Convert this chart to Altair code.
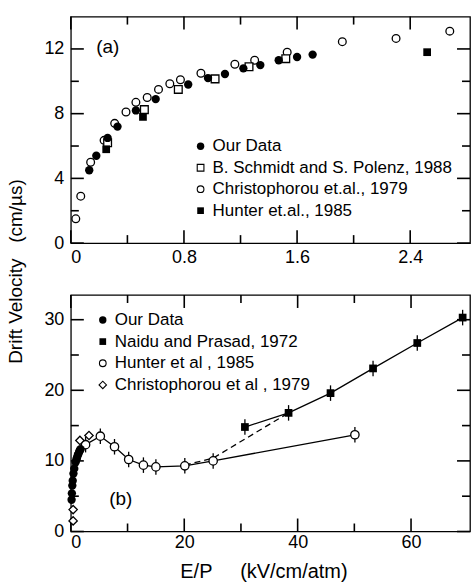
import altair as alt
import pandas as pd

FONT = "Liberation Sans"

# ---------------- Panel (a) data ----------------
a_our_x = [0.13, 0.18, 0.26, 0.33, 0.46, 0.60, 0.83, 0.97, 1.09, 1.22, 1.34, 1.47, 1.60, 1.71]
a_our_y = [4.5, 5.4, 6.5, 7.2, 8.2, 8.9, 9.8, 10.2, 10.45, 10.8, 11.0, 11.3, 11.5, 11.65]
a_sch_x = [0.26, 0.52, 0.76, 1.02, 1.26, 1.52]
a_sch_y = [6.2, 8.25, 9.5, 10.15, 10.9, 11.4]
a_chr_x = [0.035, 0.07, 0.14, 0.235, 0.31, 0.39, 0.46, 0.54, 0.62, 0.70, 0.775, 0.92, 1.16, 1.30, 1.53, 1.92, 2.30, 2.68]
a_chr_y = [1.5, 2.9, 5.0, 6.35, 7.4, 8.1, 8.7, 9.0, 9.5, 9.85, 10.1, 10.5, 11.05, 11.3, 11.8, 12.45, 12.65, 13.1]
a_hun_x = [0.25, 0.51, 2.52]
a_hun_y = [5.8, 7.8, 11.8]

# ---------------- Panel (b) data ----------------
b_our_x = a_our_x
b_our_y = a_our_y
b_nai_x = [30.7, 38.4, 45.8, 53.3, 61.1, 69.1]
b_nai_y = [14.8, 16.8, 19.6, 23.1, 26.7, 30.3]
b_hun_x = [2.6, 5.2, 7.7, 10.2, 12.8, 15.0, 20.1, 25.1, 50.1]
b_hun_y = [12.3, 13.5, 12.0, 10.2, 9.4, 9.15, 9.3, 10.0, 13.7]
b_chr_x = [0.4, 0.4, 1.6, 3.2]
b_chr_y = [1.5, 3.1, 12.9, 13.6]
b_dash_x = [20.1, 25.1, 38.4]
b_dash_y = [9.4, 10.4, 16.8]
b_err = 1.1

# ticks / labels
a_xdom = [0, 2.823]
a_ydom = [0, 14]
b_xdom = [0, 70.4]
b_ydom = [0, 33.5]
a_xmaj = [0, 0.8, 1.6, 2.4]
a_xmin = [0.4, 1.2, 2.0]
a_ymaj = [0, 4, 8, 12]
a_ymin = [2, 6, 10]
b_xmaj = [0, 20, 40, 60]
b_xmin = [10, 30, 50]
b_ymaj = [0, 10, 20, 30]
b_ymin = [5, 15, 25]

legend_a = ["Our Data", "B. Schmidt and S. Polenz, 1988", "Christophorou et.al., 1979", "Hunter et.al., 1985"]
legend_b = ["Our Data", "Naidu and Prasad, 1972", "Hunter et al , 1985", "Christophorou et al , 1979"]
panel_labels = ["(a)", "(b)"]

W = 400
HA = 227
HB = 237
MAJ = 13
MIN = 8
SW = 1.3
TICK_COLOR = "black"
TICK_W = 1.6


def mk_xy(xs, ys, xaxis, yaxis, xtitle=None, ytitle=None):
    def X(f):
        return alt.X(f, type="quantitative", scale=xs, axis=xaxis, title=xtitle)

    def Y(f):
        return alt.Y(f, type="quantitative", scale=ys, axis=yaxis, title=ytitle)
    return X, Y


def tick_frame(xdom, ydom, xmaj, xmin, ymaj, ymin, H):
    vrows, hrows = [], []
    xspan = xdom[1] - xdom[0]
    yspan = ydom[1] - ydom[0]
    for vals, L in ((xmaj, MAJ), (xmin, MIN)):
        dy = L / H * yspan
        for v in vals:
            vrows.append({"x": v, "lo": ydom[0], "hi": ydom[0] + dy})
            vrows.append({"x": v, "lo": ydom[1] - dy, "hi": ydom[1]})
    for vals, L in ((ymaj, MAJ), (ymin, MIN)):
        dx = L / W * xspan
        for v in vals:
            hrows.append({"y": v, "lo": xdom[0], "hi": xdom[0] + dx})
            hrows.append({"y": v, "lo": xdom[1] - dx, "hi": xdom[1]})
    return pd.DataFrame(vrows), pd.DataFrame(hrows)


def points(X, Y, xs, ys, shape, filled, size=64):
    df = pd.DataFrame({"x": xs, "y": ys})
    return alt.Chart(df).mark_point(
        shape=shape, filled=filled, size=size, color="black",
        fill="black" if filled else "white", fillOpacity=1, opacity=1, strokeWidth=SW
    ).encode(x=X("x"), y=Y("y"))


def legend_layers(labels, styles, sx, tx, y0, dy, size_text):
    layers = []
    for i, (lab, (shape, filled, sz)) in enumerate(zip(labels, styles)):
        yy = y0 + i * dy
        d = pd.DataFrame({"lab": [lab]})
        layers.append(alt.Chart(d).mark_point(
            shape=shape, filled=filled, size=sz, color="black",
            fill="black" if filled else "white", fillOpacity=1, opacity=1, strokeWidth=1.1
        ).encode(x=alt.value(sx), y=alt.value(yy)))
        layers.append(alt.Chart(d).mark_text(
            align="left", baseline="middle", font=FONT, fontSize=size_text, color="black"
        ).encode(x=alt.value(tx), y=alt.value(yy), text="lab:N"))
    return layers


label_style = dict(labelFont=FONT, labelFontSize=18, labelColor="black", ticks=False,
                   domain=False, grid=False, titleFont=FONT,
                   titleFontWeight="normal", titleColor="black")

# ---------------- Panel (a) ----------------
xs_a = alt.Scale(domain=a_xdom, nice=False, zero=False)
ys_a = alt.Scale(domain=a_ydom, nice=False, zero=False)
ax_a_x = alt.Axis(values=a_xmaj, format=".1~f", labelPadding=5, **label_style)
ax_a_y = alt.Axis(values=a_ymaj, format="d", labelPadding=7, titleFontSize=19,
                  titleX=-55, titleY=255, titleAngle=270, titleAlign="center",
                  titleBaseline="middle", **label_style)
Xa, Ya = mk_xy(xs_a, ys_a, ax_a_x, ax_a_y, None, "Drift Velocity\u00a0\u00a0\u00a0(cm/\u00b5s)")

tv_a, th_a = tick_frame(a_xdom, a_ydom, a_xmaj, a_xmin, a_ymaj, a_ymin, HA)
layers_a = [
    alt.Chart(tv_a).mark_rule(color=TICK_COLOR, strokeWidth=TICK_W).encode(x=Xa("x"), y=Ya("lo"), y2="hi"),
    alt.Chart(th_a).mark_rule(color=TICK_COLOR, strokeWidth=TICK_W).encode(y=Ya("y"), x=Xa("lo"), x2="hi"),
    points(Xa, Ya, a_chr_x, a_chr_y, "circle", False, 60),
    points(Xa, Ya, a_sch_x, a_sch_y, "square", False, 60),
    points(Xa, Ya, a_hun_x, a_hun_y, "square", True, 60),
    points(Xa, Ya, a_our_x, a_our_y, "circle", True, 70),
]
layers_a += legend_layers(
    legend_a,
    [("circle", True, 55), ("square", False, 45), ("circle", False, 45), ("square", True, 45)],
    130, 142, 130, 21.5, 17,
)
layers_a.append(
    alt.Chart(pd.DataFrame({"lab": [panel_labels[0]]})).mark_text(
        align="center", baseline="middle", font=FONT, fontSize=19, color="black"
    ).encode(x=alt.value(37), y=alt.value(30), text="lab:N")
)
top = alt.layer(*layers_a).properties(width=W, height=HA)

# ---------------- Panel (b) ----------------
xs_b = alt.Scale(domain=b_xdom, nice=False, zero=False)
ys_b = alt.Scale(domain=b_ydom, nice=False, zero=False)
ax_b_x = alt.Axis(values=b_xmaj, format="d", labelPadding=2, titleFontSize=20,
                  titleX=193, titleY=40, titleBaseline="middle", titleAlign="center",
                  **label_style)
ax_b_y = alt.Axis(values=b_ymaj, format="d", labelPadding=7, **label_style)
Xb, Yb = mk_xy(xs_b, ys_b, ax_b_x, ax_b_y, "E/P\u00a0\u00a0\u00a0\u00a0\u00a0(kV/cm/atm)", None)

nai_df = pd.DataFrame({"x": b_nai_x, "y": b_nai_y})
nai_df["lo"] = nai_df["y"] - b_err
nai_df["hi"] = nai_df["y"] + b_err
hun_df = pd.DataFrame({"x": b_hun_x, "y": b_hun_y})
hun_df["lo"] = hun_df["y"] - b_err
hun_df["hi"] = hun_df["y"] + b_err
dash_df = pd.DataFrame({"x": b_dash_x, "y": b_dash_y})
tv_b, th_b = tick_frame(b_xdom, b_ydom, b_xmaj, b_xmin, b_ymaj, b_ymin, HB)

layers_b = [
    alt.Chart(tv_b).mark_rule(color=TICK_COLOR, strokeWidth=TICK_W).encode(x=Xb("x"), y=Yb("lo"), y2="hi"),
    alt.Chart(th_b).mark_rule(color=TICK_COLOR, strokeWidth=TICK_W).encode(y=Yb("y"), x=Xb("lo"), x2="hi"),
    alt.Chart(dash_df).mark_line(color="black", strokeWidth=SW, strokeDash=[6, 4]).encode(x=Xb("x"), y=Yb("y")),
    alt.Chart(nai_df).mark_line(color="black", strokeWidth=SW).encode(x=Xb("x"), y=Yb("y")),
    alt.Chart(hun_df).mark_line(color="black", strokeWidth=SW).encode(x=Xb("x"), y=Yb("y")),
    alt.Chart(nai_df).mark_rule(color="black", strokeWidth=SW).encode(x=Xb("x"), y=Yb("lo"), y2="hi"),
    alt.Chart(hun_df).mark_rule(color="black", strokeWidth=SW).encode(x=Xb("x"), y=Yb("lo"), y2="hi"),
    points(Xb, Yb, b_nai_x, b_nai_y, "square", True, 60),
    points(Xb, Yb, b_hun_x, b_hun_y, "circle", False, 70),
    points(Xb, Yb, b_chr_x, b_chr_y, "diamond", False, 70),
    points(Xb, Yb, b_our_x, b_our_y, "circle", True, 70),
]
layers_b += legend_layers(
    legend_b,
    [("circle", True, 55), ("square", True, 45), ("circle", False, 45), ("diamond", False, 55)],
    32, 44, 25, 21.7, 17,
)
layers_b.append(
    alt.Chart(pd.DataFrame({"lab": [panel_labels[1]]})).mark_text(
        align="center", baseline="middle", font=FONT, fontSize=19, color="black"
    ).encode(x=alt.value(50), y=alt.value(204), text="lab:N")
)
bottom = alt.layer(*layers_b).properties(width=W, height=HB)

chart = alt.vconcat(top, bottom, spacing=52, bounds="flush").properties(
    padding={"left": 6, "top": 14, "right": 0, "bottom": 0},
    background="white",
).configure_view(stroke="black", strokeWidth=1.3)

chart.save("out.html", embed_options={"renderer": "svg", "actions": False})
